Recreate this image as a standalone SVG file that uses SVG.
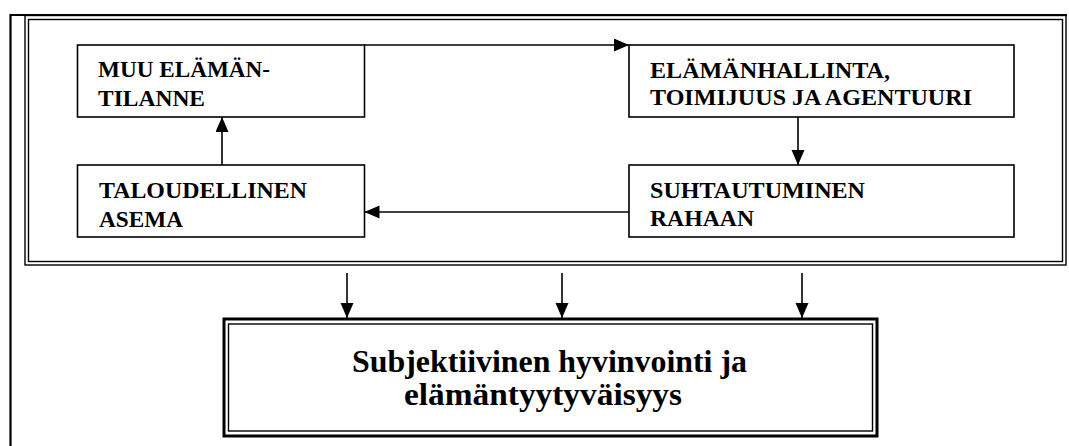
<svg xmlns="http://www.w3.org/2000/svg" width="1069" height="446" viewBox="0 0 1069 446">
<style>
.box{fill:#fff;stroke:#000;stroke-width:1.6}
.frame{fill:none;stroke:#000;stroke-width:1.4}
.lbl{font-family:"Liberation Serif","Times New Roman",serif;font-weight:bold;font-size:24px;fill:#000}
.big{font-family:"Liberation Serif","Times New Roman",serif;font-weight:bold;font-size:32px;fill:#000}
.conn{stroke:#000;stroke-width:1.6;fill:none;marker-end:url(#ah)}
</style>
<defs>
<marker id="ah" markerUnits="userSpaceOnUse" markerWidth="16" markerHeight="14" refX="15" refY="6.5" orient="auto">
<path d="M0,0 L15,6.5 L0,13 Z" fill="#000"/>
</marker>
</defs>
<rect width="1069" height="446" fill="#fff"/>
<g id="page-frame">
<path d="M10.5,446 L10.5,15 L1067,15" fill="none" stroke="#000" stroke-width="2.2"/>
</g>
<g id="outer-group">
<rect class="frame" x="25" y="15.5" width="1041" height="249.5"/>
<rect class="frame" x="28.5" y="19.5" width="1034" height="242"/>
</g>
<g id="node-muu">
<rect class="box" x="77.5" y="45" width="287" height="72"/>
<text class="lbl" x="98" y="77" textLength="172" lengthAdjust="spacingAndGlyphs">MUU ELÄMÄN-</text>
<text class="lbl" x="98" y="106" textLength="107" lengthAdjust="spacingAndGlyphs">TILANNE</text>
</g>
<g id="node-elamanhallinta">
<rect class="box" x="629" y="45" width="385" height="72"/>
<text class="lbl" x="650" y="78" textLength="240" lengthAdjust="spacingAndGlyphs">ELÄMÄNHALLINTA,</text>
<text class="lbl" x="650" y="105" textLength="322" lengthAdjust="spacingAndGlyphs">TOIMIJUUS JA AGENTUURI</text>
</g>
<g id="node-taloudellinen">
<rect class="box" x="77.5" y="165" width="287" height="72"/>
<text class="lbl" x="99" y="197.5" textLength="208" lengthAdjust="spacingAndGlyphs">TALOUDELLINEN</text>
<text class="lbl" x="99" y="226.5" textLength="84" lengthAdjust="spacingAndGlyphs">ASEMA</text>
</g>
<g id="node-suhtautuminen">
<rect class="box" x="629" y="165" width="385" height="72"/>
<text class="lbl" x="650" y="197.5" textLength="215" lengthAdjust="spacingAndGlyphs">SUHTAUTUMINEN</text>
<text class="lbl" x="650" y="226" textLength="104" lengthAdjust="spacingAndGlyphs">RAHAAN</text>
</g>
<g id="node-hyvinvointi">
<rect x="224" y="319" width="653" height="117" fill="#fff" stroke="#000" stroke-width="3"/>
<rect x="228.5" y="324" width="644" height="107" fill="none" stroke="#000" stroke-width="1.4"/>
<text class="big" x="352" y="372" textLength="395" lengthAdjust="spacingAndGlyphs">Subjektiivinen hyvinvointi ja</text>
<text class="big" x="404" y="405" textLength="278" lengthAdjust="spacingAndGlyphs">elämäntyytyväisyys</text>
</g>
<g id="connectors">
<path class="conn" d="M364.5,45 L629,45"/>
<path class="conn" d="M798,117 L798,165"/>
<path class="conn" d="M629,212 L364.5,212"/>
<path class="conn" d="M222,165 L222,117"/>
<path class="conn" d="M347,273 L347,318"/>
<path class="conn" d="M562,273 L562,318"/>
<path class="conn" d="M802,273 L802,318"/>
</g>
</svg>
